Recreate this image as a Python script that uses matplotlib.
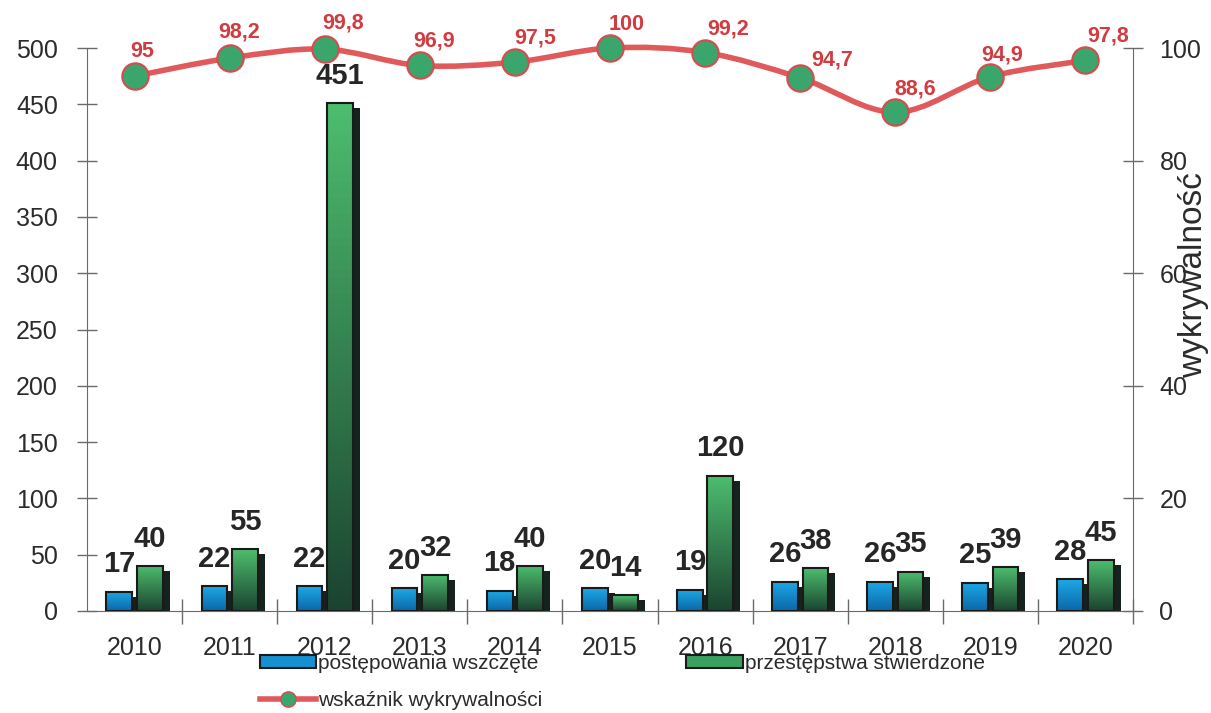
import numpy as np
import matplotlib
matplotlib.use("Agg")
import matplotlib.pyplot as plt
from matplotlib.patches import Patch
from matplotlib.lines import Line2D
from matplotlib.path import Path
from matplotlib.patches import PathPatch
import matplotlib.transforms as mtransforms

plt.rcParams['font.family'] = ['Liberation Sans', 'DejaVu Sans']

years = ['2010', '2011', '2012', '2013', '2014', '2015', '2016', '2017', '2018', '2019', '2020']
wszczete = [17, 22, 22, 20, 18, 20, 19, 26, 26, 25, 28]
stwierdzone = [40, 55, 451, 32, 40, 14, 120, 38, 35, 39, 45]
wykrywalnosc = [95, 98.2, 99.8, 96.9, 97.5, 100, 99.2, 94.7, 88.6, 94.9, 97.8]
rate_labels = ['95', '98,2', '99,8', '96,9', '97,5', '100', '99,2', '94,7', '88,6', '94,9', '97,8']

# label offsets (pixels) for the rate labels
rate_dx = [8, 9, 18, 14, 20, 17, 23, 32, 20, 12, 23]
rate_dy = [25, 26, 26, 24, 24, 23, 24, 18, 23, 22, 24]

W, H = 1211, 713
fig = plt.figure(figsize=(W / 100, H / 100), dpi=100)
fig.patch.set_facecolor('white')
ax = fig.add_axes([87 / W, (H - 611) / H, (1133 - 87) / W, (611 - 48) / H])
ax2 = ax.twinx()

x = np.arange(len(years))
bw = 0.27
off = 0.16
ax.set_xlim(-0.5, len(years) - 0.5)
ax.set_ylim(0, 500)
ax2.set_ylim(0, 100)

shadow_tr = mtransforms.offset_copy(ax.transData, fig=fig, x=7, y=-5, units='dots')

def grad_img(top, bottom, n=64):
    t = np.linspace(0, 1, n)[:, None]
    top = np.array(matplotlib.colors.to_rgb(top))
    bottom = np.array(matplotlib.colors.to_rgb(bottom))
    cols = bottom[None, :] * (1 - t) + top[None, :] * t
    return cols[:, None, :]

blue_img = grad_img('#1ea8e6', '#0b67a8')
green_img = grad_img('#4dbd6e', '#1b4430')

# shadows
ax.bar(x - off, wszczete, bw, color='#15231c', transform=shadow_tr, zorder=1)
ax.bar(x + off, stwierdzone, bw, color='#15231c', transform=shadow_tr, zorder=1)

bars_b = ax.bar(x - off, wszczete, bw, facecolor='none', edgecolor='#1a1a1a', linewidth=1.5, zorder=3)
bars_g = ax.bar(x + off, stwierdzone, bw, facecolor='none', edgecolor='#1a1a1a', linewidth=1.5, zorder=3)
for r in bars_b:
    ax.imshow(blue_img, extent=[r.get_x(), r.get_x() + r.get_width(), 0, r.get_height()],
              aspect='auto', origin='lower', zorder=2)
for r in bars_g:
    ax.imshow(green_img, extent=[r.get_x(), r.get_x() + r.get_width(), 0, r.get_height()],
              aspect='auto', origin='lower', zorder=2)
ax.set_xlim(-0.5, len(years) - 0.5)
ax.set_ylim(0, 500)

for xi, v in zip(x, wszczete):
    ax.annotate(str(v), (xi - off, v), xytext=(0, 14), textcoords='offset points',
                ha='center', va='baseline', fontsize=21, fontweight='bold', color='#262626', zorder=5)
for xi, v in zip(x, stwierdzone):
    ax.annotate(str(v), (xi + off, v), xytext=(0, 14), textcoords='offset points',
                ha='center', va='baseline', fontsize=21, fontweight='bold', color='#262626', zorder=5)

# smooth line through rate values (Catmull-Rom -> cubic Bezier)
pts = np.column_stack([x, wykrywalnosc]).astype(float)
verts = [tuple(pts[0])]
codes = [Path.MOVETO]
n = len(pts)
for i in range(n - 1):
    p0 = pts[i - 1] if i > 0 else pts[i]
    p1 = pts[i]
    p2 = pts[i + 1]
    p3 = pts[i + 2] if i + 2 < n else pts[i + 1]
    c1 = p1 + (p2 - p0) / 6
    c2 = p2 - (p3 - p1) / 6
    verts += [tuple(c1), tuple(c2), tuple(p2)]
    codes += [Path.CURVE4] * 3
ax2.add_patch(PathPatch(Path(verts, codes), facecolor='none', edgecolor='#e05a5c',
                        linewidth=4, zorder=4, clip_on=False))
ax2.plot(x, wykrywalnosc, linestyle='none', marker='o', markersize=19,
         markerfacecolor='#3aa66b', markeredgecolor='#d84a4e', markeredgewidth=1.5,
         zorder=5, clip_on=False)
for xi, v, lab, dx, dy in zip(x, wykrywalnosc, rate_labels, rate_dx, rate_dy):
    ax2.annotate(lab, (xi, v), xytext=(dx * 0.72, dy * 0.72), textcoords='offset points',
                 ha='center', va='center', fontsize=15.5, fontweight='bold', color='#d23b40',
                 zorder=6, annotation_clip=False)

# axes styling
for a in (ax, ax2):
    a.spines['top'].set_visible(False)
ax.spines['right'].set_visible(False)
ax2.spines['left'].set_visible(False)
ax2.spines['bottom'].set_visible(False)
for s in ('left', 'bottom'):
    ax.spines[s].set_color('#6a6a6a')
ax2.spines['right'].set_color('#6a6a6a')

ax.set_yticks(np.arange(0, 501, 50))
ax.tick_params(axis='y', direction='inout', length=14, width=1, color='#6a6a6a',
               labelsize=18, labelcolor='#2b2b2b', pad=14)
ax2.set_yticks(np.arange(0, 101, 20))
ax2.tick_params(axis='y', direction='inout', length=14, width=1, color='#6a6a6a',
                labelsize=18, labelcolor='#2b2b2b', pad=12)
ax.set_xticks(x)
ax.set_xticklabels(years)
ax.set_xticks(np.arange(-0.5, len(years), 1)[1:], minor=True)
ax.tick_params(axis='x', which='major', length=0, labelsize=18, labelcolor='#2b2b2b', pad=18)
ax.tick_params(axis='x', which='minor', direction='inout', length=18, width=1, color='#6a6a6a')

fig.text(1194 / W, 1 - 275 / H, 'wykrywalność', rotation=90, ha='center', va='center',
         fontsize=24, color='#2b2b2b')

handles = [Patch(facecolor='#1590d0', edgecolor='#1a1a1a', linewidth=1.5),
           Line2D([], [], color='#e05a5c', linewidth=4, marker='o', markersize=11,
                  markerfacecolor='#3aa66b', markeredgecolor='#d84a4e'),
           Patch(facecolor='#3aa05e', edgecolor='#1a1a1a', linewidth=1.5)]
labels = ['postępowania wszczęte', 'wskaźnik wykrywalności', 'przestępstwa stwierdzone']
fig.legend(handles, labels, ncol=2, loc='upper left',
           bbox_to_anchor=(260 / W, 1 - 654 / H), frameon=False, fontsize=15,
           handlelength=2.7, handleheight=0.6, handletextpad=0.1, columnspacing=6.9,
           labelspacing=0.85, borderaxespad=0, borderpad=0)
for t in fig.legends[0].get_texts():
    t.set_color('#2b2b2b')

fig.savefig('out.png', dpi=100, facecolor='white')
